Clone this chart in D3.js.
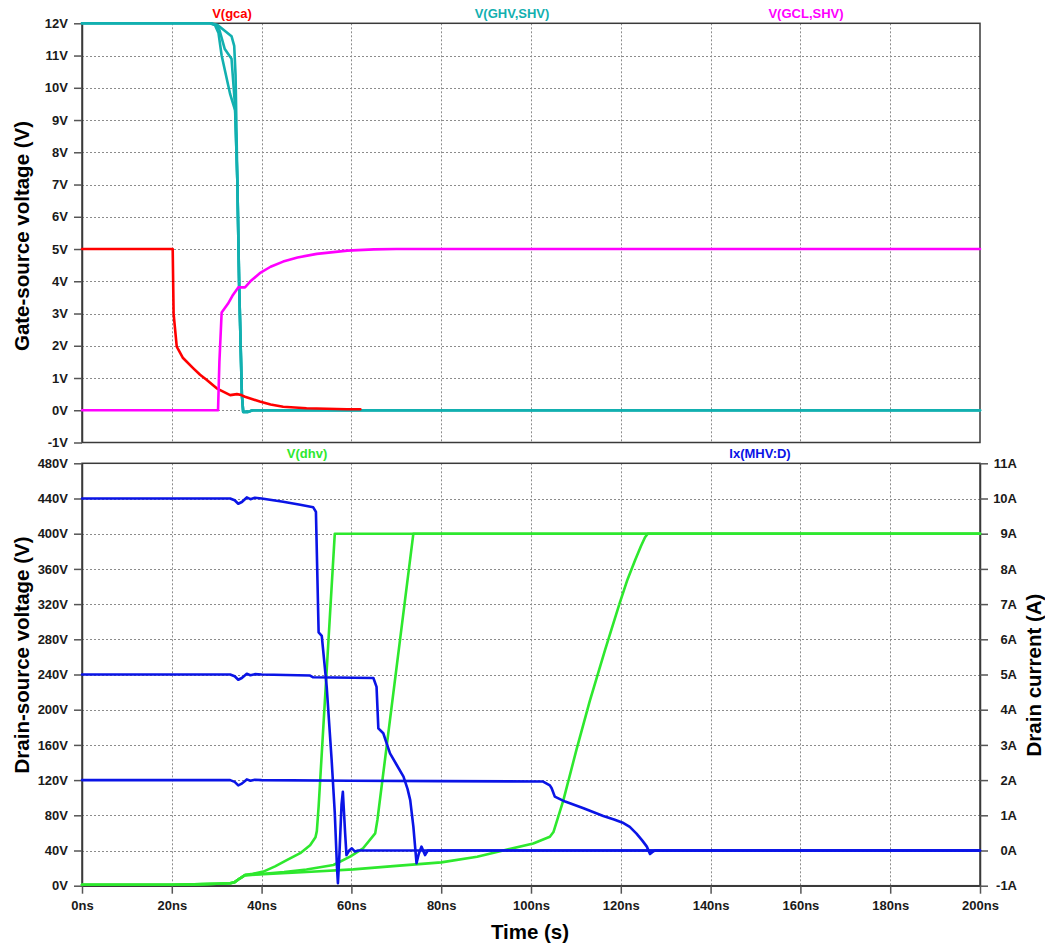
<!DOCTYPE html>
<html>
<head>
<meta charset="utf-8">
<script src="https://cdn.jsdelivr.net/npm/d3@7"></script>
<style>
  html, body { margin: 0; padding: 0; background: #fff; }
  svg { display: block; font-family: "Liberation Sans", Arial, sans-serif; font-weight: bold; }
</style>
</head>
<body>
<svg id="chart" width="1045" height="947"></svg>
<script>
// ---- Tick values ----
const TIME_TICKS = d3.range(0, 201, 20);          // ns
const GATE_TICKS = d3.range(-1, 13, 1);           // V
const DRAIN_V_TICKS = d3.range(0, 481, 40);       // V
const DRAIN_I_TICKS = d3.range(-1, 12, 1);        // A

// ---- Gate-source waveforms: [time ns, volts] ----
const gcaVolts = [[0,5],[20.2,5],[20.4,3.0],[21.1,1.97],[22.5,1.62],[24.8,1.3],[26.3,1.1],[27.8,0.94],[30,0.68],
  [33,0.47],[34.5,0.5],[35.5,0.47],[36.3,0.42],[38,0.34],[39.6,0.27],[42,0.18],[44.8,0.11],[50,0.06],[59,0.03],[62,0.03]];

const ghvVoltsA = [[0,12],[28.5,12],[29.6,11.95],[30.4,11.7],[31.1,11.0],[33.0,9.8],[34.1,9.3],
  [34.6,7.1],[35.0,3.9],[35.6,0.5],[35.9,-0.05],[37,-0.05],[38,0],[200,0]];
const ghvVoltsB = [[0,12],[28.5,12],[29.8,11.95],[30.6,11.8],[31.8,11.2],[33.3,10.9],[34.1,9.4],
  [34.6,7.1],[35.0,3.9],[35.6,0.5],[35.9,-0.05],[37,-0.05],[38,0],[200,0]];
const ghvVoltsC = [[0,12],[28.8,12],[30.2,11.95],[31.5,11.8],[33.3,11.6],[33.9,11.3],[34.2,10.4],
  [34.6,7.1],[35.0,3.9],[35.6,0.5],[35.9,-0.05],[37,-0.05],[38,0],[200,0]];

const gclVolts = [[0,0],[30.3,0],[30.6,1.5],[31.1,3.03],[32.5,3.3],[33.5,3.55],[34.8,3.81],[36.3,3.81],
  [37.5,4.0],[39.6,4.25],[42,4.45],[44.8,4.61],[48,4.74],[52.3,4.85],[59.1,4.95],[65,4.99],[70,5],[200,5]];

// ---- Drain-source voltage: [time ns, volts] ----
const dhvVolts10A = [[0,1],[20,1],[25,1.5],[30,2.3],[33,2.8],[34,4],[35.2,8.4],[36.3,12],[38,13.5],
  [40.4,16],[43,22],[45.6,29],[48.6,37],[50.8,46],[52.0,55],[52.3,62],[52.7,90],[56.3,400],[200,400]];
const dhvVolts5A = [[0,1],[20,1],[25,1.5],[30,2.3],[33,2.8],[34,4],[35.2,8.4],[36.3,12],[40.4,13.5],
  [45,15.5],[50,18.5],[56,23.5],[59.7,33],[62.6,42.5],[65.3,59.5],[65.8,75],[73.8,400],[200,400]];
const dhvVolts2A = [[0,1],[20,1],[25,1.5],[30,2.3],[33,2.8],[34,4],[35.2,8.4],[36.3,12],[40.4,13],
  [50,15.5],[60.4,18.5],[70,22.5],[80,26.5],[88,33],[93.8,40],[100.5,48],[104.2,55.7],[105,61],
  [107.2,97],[110.1,154],[113.1,210],[116.5,268],[119.8,322],[121.5,348],[123.2,370],[124.5,386],
  [125.4,396],[126,400],[200,400]];

// ---- Drain current: [time ns, amps] ----
const drainAmps10A = [[0,10],[33,10],[34,9.95],[34.8,9.85],[35.6,9.9],[36.7,10.03],[37.5,9.98],[38.5,10.02],
  [40,10],[44.8,9.91],[48.6,9.82],[51.5,9.75],[52.1,9.62],[52.7,6.2],[53.4,6.1],[54.5,4.65],[55.6,2.57],
  [56.3,1.06],[56.8,-0.5],[57.0,-0.93],[57.3,-0.2],[57.8,1.3],[58.1,1.67],[58.3,1.2],[58.6,0.5],
  [58.9,-0.13],[59.5,0],[60.1,0.06],[60.8,-0.03],[61.5,0],[200,0]];
const drainAmps5A = [[0,5],[33,5],[34,4.95],[34.8,4.85],[35.6,4.9],[36.7,5.02],[37.5,4.98],[38.5,5.01],
  [40,5],[50.8,4.97],[51.5,4.92],[64.9,4.9],[65.6,4.65],[66,3.47],[67.1,3.33],[68.6,2.76],[70,2.45],
  [71.6,2.1],[72.5,1.75],[73.1,1.43],[73.8,0.68],[74.5,-0.36],[75.0,-0.1],[75.6,0.11],[76.4,-0.13],[77,0],[200,0]];
const drainAmps2A = [[0,2],[33,2],[34,1.95],[34.8,1.85],[35.6,1.9],[36.7,2.02],[37.5,1.98],[38.5,2.01],
  [40,2],[60,1.98],[80,1.97],[102.7,1.96],[104.2,1.85],[104.6,1.77],[105.3,1.53],[107.6,1.39],[111.7,1.2],
  [116.1,0.98],[118.5,0.88],[120.6,0.78],[122.0,0.67],[123.5,0.48],[124.8,0.28],[125.8,0.11],[126.5,-0.1],
  [127,-0.05],[127.6,0],[200,0]];

// ---- Layout ----
const svg = d3.select("#chart");
const left = 82, right = 980;
const top1 = 23.3, bot1 = 442.5;
const top2 = 463.3, bot2 = 885.7;

const COLORS = { gca: "#ff0000", ghv: "#12b0b0", gcl: "#ff00ff", dhv: "#2ee82e", ix: "#0a14e6" };
const GRID = "#8c8c8c", AXIS = "#3a3a3a", TEXT = "#1a1a1a";

const x = d3.scaleLinear().domain([0, 200]).range([left, right]);
const yGate = d3.scaleLinear().domain([-1, 12]).range([bot1, top1]);
const yDrainV = d3.scaleLinear().domain([0, 480]).range([bot2, top2]);
const yDrainI = d3.scaleLinear().domain([-1, 11]).range([bot2, top2]);

svg.append("rect").attr("width", 1045).attr("height", 947).attr("fill", "#fff");

// dotted grid for a panel
function grid(yScale, yTicks, yTop, yBot) {
  const g = svg.append("g").attr("stroke", GRID).attr("stroke-width", 1).attr("stroke-dasharray", "2,2");
  g.selectAll("line.v").data(TIME_TICKS.slice(1, -1)).join("line")
    .attr("x1", d => Math.round(x(d)) + 0.5).attr("x2", d => Math.round(x(d)) + 0.5)
    .attr("y1", yTop).attr("y2", yBot);
  g.selectAll("line.h").data(yTicks).join("line")
    .attr("x1", left).attr("x2", right)
    .attr("y1", d => Math.round(yScale(d)) + 0.5).attr("y2", d => Math.round(yScale(d)) + 0.5);
}
grid(yGate, GATE_TICKS.slice(1, -1), top1, bot1);
grid(yDrainV, DRAIN_V_TICKS.slice(1, -1), top2, bot2);

// panel frames
function frame(yTop, yBot) {
  svg.append("rect").attr("x", left).attr("y", yTop).attr("width", right - left).attr("height", yBot - yTop)
    .attr("fill", "none").attr("stroke", AXIS).attr("stroke-width", 1.5);
}
frame(top1, bot1);
frame(top2, bot2);

function styleAxis(g) {
  g.select(".domain").attr("stroke", AXIS).attr("stroke-width", 1.5);
  g.selectAll(".tick line").attr("stroke", "#555").attr("stroke-width", 1.5);
  g.selectAll(".tick text").attr("fill", TEXT).style("font-size", "13px").style("font-weight", "bold")
    .style("font-family", '"Liberation Sans", Arial, sans-serif');
}

// axes
svg.append("g").attr("transform", `translate(${left},0)`)
  .call(d3.axisLeft(yGate).tickValues(GATE_TICKS).tickSize(8).tickSizeOuter(0).tickPadding(6).tickFormat(d => d + "V"))
  .call(styleAxis);
svg.append("g").attr("transform", `translate(${left},0)`)
  .call(d3.axisLeft(yDrainV).tickValues(DRAIN_V_TICKS).tickSize(8).tickSizeOuter(0).tickPadding(6).tickFormat(d => d + "V"))
  .call(styleAxis);
const rAxis = svg.append("g").attr("transform", `translate(${right},0)`)
  .call(d3.axisRight(yDrainI).tickValues(DRAIN_I_TICKS).tickSize(8).tickSizeOuter(0).tickFormat(d => d + "A"))
  .call(styleAxis);
rAxis.selectAll(".tick text").attr("x", 37).attr("text-anchor", "end");
svg.append("g").attr("transform", `translate(0,${bot2})`)
  .call(d3.axisBottom(x).tickValues(TIME_TICKS).tickSize(8).tickSizeOuter(0).tickPadding(7).tickFormat(d => d + "ns"))
  .call(styleAxis);

// traces
function trace(data, yScale, color) {
  const line = d3.line().x(d => x(d[0])).y(d => yScale(d[1]));
  svg.append("path").datum(data).attr("d", line).attr("fill", "none").attr("stroke", color)
    .attr("stroke-width", 2.6).attr("stroke-linejoin", "round").attr("stroke-linecap", "round");
}
[ghvVoltsA, ghvVoltsB, ghvVoltsC].forEach(d => trace(d, yGate, COLORS.ghv));
trace(gcaVolts, yGate, COLORS.gca);
trace(gclVolts, yGate, COLORS.gcl);

[dhvVolts10A, dhvVolts5A, dhvVolts2A].forEach(d => trace(d, yDrainV, COLORS.dhv));
[drainAmps10A, drainAmps5A, drainAmps2A].forEach(d => trace(d, yDrainI, COLORS.ix));

// trace names
const names = [
  { text: "V(gca)", x: 232, y: 18, color: COLORS.gca },
  { text: "V(GHV,SHV)", x: 512, y: 18, color: COLORS.ghv },
  { text: "V(GCL,SHV)", x: 806, y: 18, color: COLORS.gcl },
  { text: "V(dhv)", x: 307, y: 458, color: COLORS.dhv },
  { text: "Ix(MHV:D)", x: 760, y: 458, color: COLORS.ix }
];
svg.selectAll("text.name").data(names).join("text").attr("class", "name")
  .attr("x", d => d.x).attr("y", d => d.y).attr("text-anchor", "middle")
  .attr("fill", d => d.color).style("font-size", "13px").text(d => d.text);

// axis titles
const titleStyle = sel => sel.attr("text-anchor", "middle").attr("fill", "#000").style("font-size", "20.5px");
svg.append("text").attr("transform", "translate(29,236) rotate(-90)").call(titleStyle).text("Gate-source voltage (V)");
svg.append("text").attr("transform", "translate(29,655) rotate(-90)").call(titleStyle).text("Drain-source voltage (V)");
svg.append("text").attr("transform", "translate(1041,675) rotate(-90)").call(titleStyle).text("Drain current (A)");
svg.append("text").attr("x", 530).attr("y", 939).call(titleStyle).text("Time (s)");
</script>
</body>
</html>
